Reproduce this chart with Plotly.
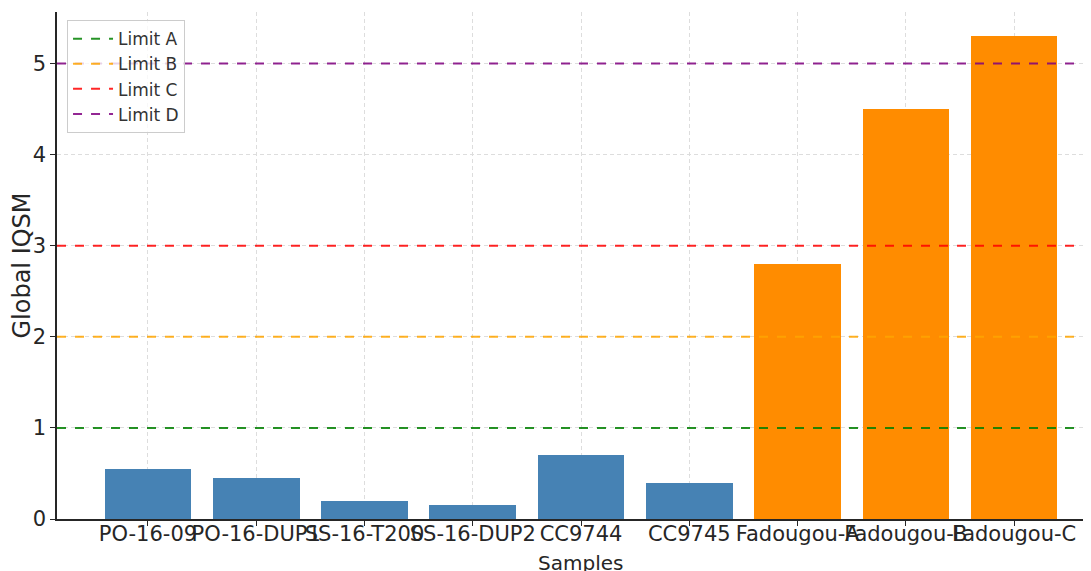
import plotly.graph_objects as go

samples = ["PO-16-09", "PO-16-DUP1", "SS-16-T200", "SS-16-DUP2", "CC9744",
           "CC9745", "Fadougou-A", "Fadougou-B", "Fadougou-C"]
iqsm = [0.55, 0.45, 0.2, 0.15, 0.7, 0.4, 2.8, 4.5, 5.3]
bar_colors = ["steelblue"] * 6 + ["darkorange"] * 3

limit_names = ["Limit A", "Limit B", "Limit C", "Limit D"]
limit_values = [1, 2, 3, 5]
limit_colors = ["green", "orange", "red", "purple"]

font = "DejaVu Sans, Liberation Sans, sans-serif"

x = list(range(len(samples)))

fig = go.Figure()
fig.add_trace(go.Bar(
    x=x, y=iqsm, width=0.8,
    marker=dict(color=bar_colors, line=dict(width=0)),
    showlegend=False,
))

for name, val, col in zip(limit_names, limit_values, limit_colors):
    fig.add_shape(
        type="line", xref="paper", yref="y", x0=0, x1=1, y0=val, y1=val,
        line=dict(color=col, width=2, dash="dash"), opacity=0.85,
        layer="above", name=name, showlegend=True,
    )

# x title as annotation (the axis title gets squeezed by the small margin)
fig.add_annotation(
    text="Samples", xref="paper", yref="paper", x=0.506, y=0,
    xanchor="center", yanchor="top", yshift=-30, showarrow=False,
    font=dict(size=20, color="#262626"),
)

# page body has an 8px margin, so the figure is a bit smaller than the window
fig.update_layout(
    width=1083, height=563,
    margin=dict(l=49, r=0, t=4, b=52),
    plot_bgcolor="white", paper_bgcolor="white",
    font=dict(family=font, size=20, color="#262626"),
    bargap=0,
    legend=dict(
        x=0.0097, y=0.984, xanchor="left", yanchor="top",
        bgcolor="rgba(255,255,255,0.8)", bordercolor="#cccccc", borderwidth=1,
        font=dict(size=17, color="#333333"),
        itemwidth=40, tracegroupgap=0,
    ),
)

fig.update_xaxes(
    range=[-0.84, 8.71],
    tickvals=x, ticktext=samples, tickangle=0,
    tickfont=dict(size=21), ticklabelstandoff=-10,
    showgrid=True, gridcolor="#dddddd", griddash="4px,3px", gridwidth=1,
    showline=True, linecolor="#262626", linewidth=1.5,
    ticks="outside", ticklen=5, tickcolor="#262626",
    automargin=False, zeroline=False,
)
fig.update_yaxes(
    range=[0, 5.565],
    tickvals=[0, 1, 2, 3, 4, 5], tickfont=dict(size=21),
    showgrid=True, gridcolor="#dddddd", griddash="4px,3px", gridwidth=1,
    showline=True, linecolor="#262626", linewidth=1.5,
    ticks="outside", ticklen=5, tickcolor="#262626",
    title=dict(text="Global IQSM", standoff=8),
    automargin=False, zeroline=False,
)

fig.write_html("out.html")
